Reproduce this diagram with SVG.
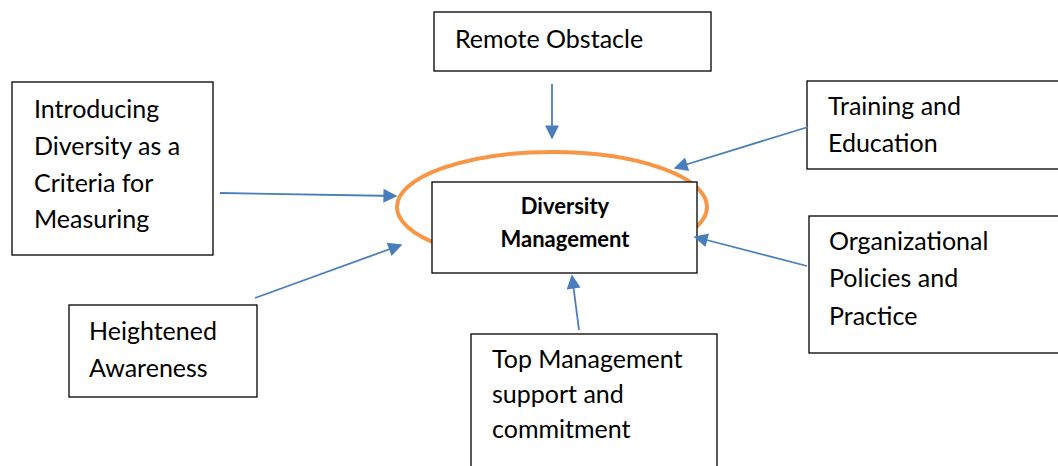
<svg xmlns="http://www.w3.org/2000/svg" width="1058" height="466" viewBox="0 0 1058 466">
  <style>
    .box { fill: #ffffff; stroke: #000000; stroke-width: 1.3; }
    .lbl { font-family: Lato, "Liberation Sans", sans-serif; font-size: 25px; fill: #000000; }
    .core { font-family: Lato, "Liberation Sans", sans-serif; font-size: 22px; font-weight: bold; fill: #000000; text-anchor: middle; }
    .link { stroke: #4a7ebb; stroke-width: 1.8; fill: none; marker-end: url(#head); }
  </style>
  <defs>
    <marker id="head" viewBox="0 0 10 10" refX="9" refY="5" markerUnits="userSpaceOnUse" markerWidth="16" markerHeight="14" orient="auto">
      <path d="M0,0 L10,5 L0,10 Z" fill="#4a7ebb"/>
    </marker>
  </defs>

  <!-- centre: ring with the core box on top -->
  <g id="core">
    <ellipse cx="552" cy="207" rx="155" ry="55" fill="none" stroke="#f79646" stroke-width="4"/>
    <rect class="box" x="432" y="182" width="265" height="91"/>
    <text class="core" x="565" y="214">Diversity</text>
    <text class="core" x="565" y="247">Management</text>
  </g>

  <g id="remote-obstacle">
    <rect class="box" x="434" y="12" width="277" height="59"/>
    <text class="lbl" x="455" y="48">Remote Obstacle</text>
  </g>

  <g id="introducing-diversity">
    <rect class="box" x="12" y="82" width="201" height="173"/>
    <text class="lbl" x="34" y="118">Introducing</text>
    <text class="lbl" x="34" y="155">Diversity as a</text>
    <text class="lbl" x="34" y="192">Criteria for</text>
    <text class="lbl" x="34" y="228">Measuring</text>
  </g>

  <g id="training-education">
    <rect class="box" x="807" y="81" width="260" height="88"/>
    <text class="lbl" x="828" y="115">Training and</text>
    <text class="lbl" x="828" y="152">Education</text>
  </g>

  <g id="organizational-policies">
    <rect class="box" x="809" y="216" width="260" height="137"/>
    <text class="lbl" x="829" y="250">Organizational</text>
    <text class="lbl" x="829" y="287">Policies and</text>
    <text class="lbl" x="829" y="325">Practice</text>
  </g>

  <g id="heightened-awareness">
    <rect class="box" x="69" y="305" width="188" height="92"/>
    <text class="lbl" x="89" y="340">Heightened</text>
    <text class="lbl" x="89" y="377">Awareness</text>
  </g>

  <g id="top-management">
    <rect class="box" x="471" y="334" width="246" height="140"/>
    <text class="lbl" x="492" y="368">Top Management</text>
    <text class="lbl" x="492" y="403">support and</text>
    <text class="lbl" x="492" y="438">commitment</text>
  </g>

  <g id="connectors">
    <line class="link" x1="552" y1="84" x2="552" y2="138"/>
    <line class="link" x1="220" y1="193" x2="396" y2="196"/>
    <line class="link" x1="808" y1="127" x2="675" y2="168"/>
    <line class="link" x1="807" y1="266" x2="695" y2="237"/>
    <line class="link" x1="255" y1="298" x2="401" y2="245"/>
    <line class="link" x1="579" y1="330" x2="572" y2="276"/>
  </g>
</svg>
